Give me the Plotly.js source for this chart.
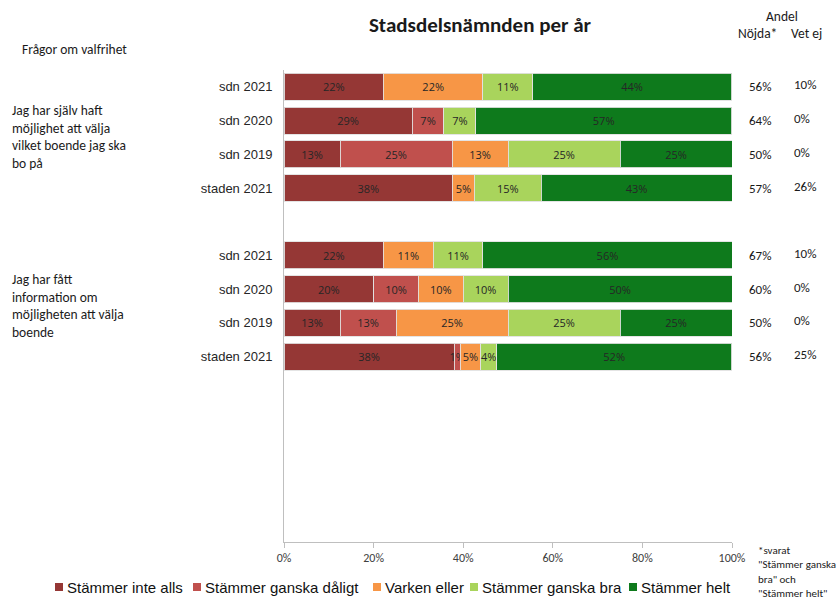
<!DOCTYPE html>
<html>
<head>
<meta charset="utf-8">
<script src="https://cdn.plot.ly/plotly-3.0.1.min.js"></script>
<style>html,body{margin:0;padding:0;background:#fff;}#chart{width:840px;height:597px;}</style>
</head>
<body>
<div id="chart"></div>
<script>
// ---- data ----
const rowLabels = ['sdn 2021','sdn 2020','sdn 2019','staden 2021','sdn 2021','sdn 2020','sdn 2019','staden 2021'];
const rowPos = [0,1,2,3,5,6,7,8];
const questions = ['Jag har själv haft<br>möjlighet att välja<br>vilket boende jag ska<br>bo på',
                   'Jag har fått<br>information om<br>möjligheten att välja<br>boende'];
const questionPos = [1.5, 6.5];
const seriesNames = ['Stämmer inte alls','Stämmer ganska dåligt','Varken eller','Stämmer ganska bra','Stämmer helt'];
const inteAlls    = [22.2, 28.6, 12.5, 37.6, 22.2, 20, 12.5, 38.0];
const gDaligt     = [0,    7.1,  25,   0,    0,    10, 12.5, 1.3];
const varken      = [22.2, 0,    12.5, 4.9,  11.1, 10, 25,   4.6];
const gBra        = [11.1, 7.1,  25,   14.9, 11.1, 10, 25,   3.6];
const helt        = [44.4, 57.1, 25,   42.6, 55.6, 50, 25,   52.4];
const nojda = ['56%','64%','50%','57%','67%','60%','50%','56%'];
const vetej = ['10%','0%','0%','26%','10%','0%','0%','25%'];
const xTicks = [0,20,40,60,80,100];
const xTickText = ['0%','20%','40%','60%','80%','100%'];

// ---- styling ----
const colors = ['#953735','#C0504D','#F79646','#A9D45C','#0E7A1C'];
const seriesVals = [inteAlls, gDaligt, varken, gBra, helt];
const L = 284, R = 732, T = 70, B = 542;
const xp = px => (px - L) / (R - L);
const yp = py => (B - py) / (B - T);
const narrow = "Carlito, 'Liberation Sans Narrow', 'Open Sans', sans-serif";
const arial = "'Liberation Sans', Arial, sans-serif";

const traces = seriesVals.map((vals, i) => ({
  type: 'bar', orientation: 'h', name: seriesNames[i],
  x: vals, y: rowPos,
  marker: {color: colors[i], line: {color: 'rgba(225,225,225,0.9)', width: 1}},
  text: vals.map(v => v > 0 ? Math.round(v) + '%' : ''),
  textposition: 'inside', insidetextanchor: 'middle', constraintext: 'none', textangle: 0,
  textfont: {family: "'Open Sans', sans-serif", size: 11, color: '#262626'},
  hoverinfo: 'none', showlegend: false
}));

const annotations = [];
questions.forEach((q, i) => annotations.push({
  xref: 'paper', yref: 'y', x: xp(10), y: questionPos[i], xanchor: 'left', yanchor: 'middle', align: 'left',
  text: q, showarrow: false, font: {family: narrow, size: 13.5, color: '#1a1a1a'}
}));
annotations.push({xref: 'paper', yref: 'paper', x: xp(20), y: yp(50), xanchor: 'left', yanchor: 'middle',
  text: 'Frågor om valfrihet', showarrow: false, font: {family: narrow, size: 13.5, color: '#1a1a1a'}});
annotations.push({xref: 'paper', yref: 'paper', x: xp(782), y: yp(17), xanchor: 'center', yanchor: 'middle',
  text: 'Andel', showarrow: false, font: {family: narrow, size: 13.5, color: '#1a1a1a'}});
annotations.push({xref: 'paper', yref: 'paper', x: xp(757), y: yp(34), xanchor: 'center', yanchor: 'middle',
  text: 'Nöjda*', showarrow: false, font: {family: narrow, size: 13.5, color: '#1a1a1a'}});
annotations.push({xref: 'paper', yref: 'paper', x: xp(806), y: yp(34), xanchor: 'center', yanchor: 'middle',
  text: 'Vet ej', showarrow: false, font: {family: narrow, size: 13.5, color: '#1a1a1a'}});
rowPos.forEach((p, i) => {
  annotations.push({xref: 'paper', yref: 'y', x: xp(747), y: p, xanchor: 'left', yanchor: 'middle',
    text: nojda[i], showarrow: false, font: {family: narrow, size: 13, color: '#1a1a1a'}});
  annotations.push({xref: 'paper', yref: 'y', x: xp(792), y: p, yshift: 2, xanchor: 'left', yanchor: 'middle',
    text: vetej[i], showarrow: false, font: {family: narrow, size: 13, color: '#1a1a1a'}});
});
annotations.push({xref: 'paper', yref: 'paper', x: xp(756), y: yp(542), xanchor: 'left', yanchor: 'top', align: 'left',
  text: '*svarat<br>"Stämmer ganska<br>bra" och<br>"Stämmer helt"', showarrow: false,
  font: {family: narrow, size: 11, color: '#1a1a1a'}});

// manual legend
const legendSq = [55, 193, 373, 470, 629];
const shapes = [];
seriesNames.forEach((n, i) => {
  shapes.push({type: 'rect', xref: 'paper', yref: 'paper', x0: xp(legendSq[i]), x1: xp(legendSq[i] + 8),
    y0: yp(591), y1: yp(583), fillcolor: colors[i], line: {width: 0}});
  annotations.push({xref: 'paper', yref: 'paper', x: xp(legendSq[i] + 10), y: yp(587), xanchor: 'left', yanchor: 'middle',
    text: n, showarrow: false, font: {family: arial, size: 15, color: '#111'}});
});

const layout = {
  width: 840, height: 597,
  margin: {l: L, r: 840 - R, t: T, b: 597 - B},
  paper_bgcolor: '#fff', plot_bgcolor: '#fff',
  barmode: 'stack', bargap: 0.2,
  title: {text: '<b>Stadsdelsnämnden per år</b>', x: 480 / 840, xanchor: 'center', y: 1 - 25 / 597, yanchor: 'middle',
    font: {family: narrow, size: 21, color: '#1a1a1a'}},
  xaxis: {range: [0, 100], tickvals: xTicks, ticktext: xTickText, ticks: 'outside', ticklen: 5, tickcolor: '#bfbfbf',
    showline: true, linecolor: '#bfbfbf', linewidth: 1, showgrid: false, zeroline: false, fixedrange: true,
    tickfont: {family: narrow, size: 12, color: '#404040'}},
  yaxis: {range: [13.5, -0.5], tickvals: rowPos, ticktext: rowLabels, ticks: '', showline: true, linecolor: '#bfbfbf',
    linewidth: 1, showgrid: false, zeroline: false, fixedrange: true, ticklabelstandoff: 8,
    tickfont: {family: arial, size: 13, color: '#262626'}},
  annotations: annotations, shapes: shapes, showlegend: false
};

Plotly.newPlot('chart', traces, layout, {staticPlot: true, displayModeBar: false});
</script>
</body>
</html>
